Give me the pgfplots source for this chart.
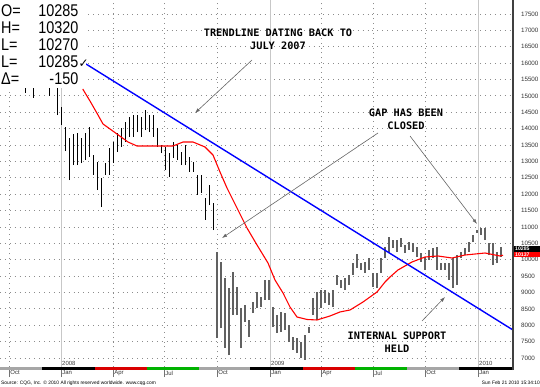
\documentclass[border=0pt]{standalone}
\usepackage{pgfplots}
\pgfplotsset{compat=1.18}
\usepackage{pgfplotstable}
\usepackage{fontspec}
\setmainfont{Liberation Sans}
\newfontfamily\annfont{DejaVu Sans Mono}
\newfontfamily\djv{DejaVu Sans}
\usetikzlibrary{arrows.meta}

\pgfplotstableread{
x lo hi
-9 15089 15485
-7 14936 15485
-3 14997 15485
-1 14417 15400
0 14112 14661
1 13318 14051
2 12433 13715
3 12891 13837
4 12891 13868
5 12952 13715
6 13044 13868
7 13135 14051
8 12586 13196
9 12128 12983
10 11609 12494
11 12586 12952
12 12586 13410
13 12952 13593
14 13288 13868
15 13441 14020
16 13593 14204
17 13746 14356
18 13746 14417
19 13898 14417
20 13746 14356
21 13959 14570
22 13898 14417
23 13746 14417
24 13441 14020
25 13257 13502
26 12739 13441
27 12525 13257
28 13105 13593
29 13044 13502
30 12891 13288
31 12891 13502
32 12678 13135
33 12678 12983
34 11976 12586
35 12037 12586
36 11213 11884
37 11670 12281
38 10907 11731
}\pre

\pgfplotstableread{
x lo hi
39 7611 10236
40 7916 9931
41 7306 9442
42 7092 9137
43 8313 9626
44 8313 9168
45 7306 8527
46 8100 8618
47 7642 8161
48 8374 8710
49 8527 9015
50 8557 8863
51 8771 9381
52 8771 9381
53 7947 8557
54 7764 8313
55 7794 8405
56 7855 8374
57 7489 8008
58 7245 7642
59 7153 7611
60 7001 7489
61 6940 7703
62 7764 7947
63 8313 8832
64 8161 9015
65 8527 9076
66 8679 9076
67 8618 8985
68 8557 9076
69 9229 9534
70 9137 9381
71 9076 9442
72 9229 9534
73 9534 9900
74 9748 10175
75 9687 9900
76 9595 9931
77 9687 10053
78 9168 9595
79 9137 9595
80 9595 10053
81 10053 10389
82 10205 10694
83 10358 10602
84 10236 10602
85 10389 10663
86 10205 10450
87 10297 10541
88 10236 10511
89 10083 10389
90 9931 10205
91 9687 10083
92 9992 10297
93 10053 10358
94 9687 10389
95 9687 9900
96 9687 9900
97 9381 9900
98 9137 10053
99 9229 10144
100 10053 10236
101 10144 10358
102 10236 10541
103 10541 10755
104 10816 10907
105 10755 10968
106 10602 10968
107 10144 10511
108 9839 10511
109 9900 10236
110 10083 10389
}\post

\pgfplotstableread{
x y
5.43 15211
7.25 14844
9.25 14417
10.5 14143
14 13837
16.75 13593
19 13471
24 13471
28 13471
30.5 13593
33 13593
36 13441
38 13196
39.75 12678
41.5 12189
44 11579
46.5 10968
49 10450
51.75 9900
53.5 9381
55.5 8985
57.25 8557
59 8252
61.5 8176
64 8161
67.25 8283
69.75 8405
72.25 8466
75.5 8710
79 9015
81 9320
82.25 9473
84.25 9687
87.75 9931
91 10083
94.25 10114
97.75 10053
101 10144
106 10205
109.75 10114
110.5 10137
}\ma

\begin{document}
\begin{tikzpicture}
\useasboundingbox (0bp,-20bp) rectangle (540bp,367bp);
\begin{axis}[
  at={(0bp,0bp)}, anchor=south west,
  scale only axis, width=513bp, height=367bp,
  xmin=-15.25, xmax=113, ymin=6726, ymax=17927,
  axis line style={draw=none},
  scaled y ticks=false,
  ytick={7000,7500,...,17500},
  yticklabel pos=right, ytick pos=right,
  ytick style={draw=none},
  yticklabel style={anchor=west, xshift=-5.5bp, font=\fontsize{6.3}{7}\selectfont, text=black!80},
  xtick={-13,13,25.75,39,65,78,91},
  xticklabels={Oct,Apr,Jul,Oct,Apr,Jul,Oct},
  extra x ticks={0,52.25,104.25},
  extra x tick labels={Jan,Jan,Jan},
  extra x tick style={grid=major, major grid style={solid, black!22, line width=0.9bp}},
  xtick pos=left,
  tick align=outside,
  major tick length=10bp,
  xtick style={draw=black!55, line width=0.6bp},
  xticklabel style={anchor=north west, inner sep=0pt, xshift=1.2bp, yshift=6.5bp, font=\fontsize{6}{6}\selectfont, text=black!80},
  xmajorgrids, ymajorgrids,
  major grid style={black!45, dash pattern=on 0.9bp off 4bp, line width=0.9bp},
  clip=false,
  /pgf/number format/.cd, 1000 sep={}, assume math mode=true
]
\addplot [draw=none, mark=none,
  error bars/.cd, y dir=plus, y explicit, error mark=none,
  error bar style={draw=black, line width=1bp}]
  table [x=x, y=lo, y error expr=\thisrow{hi}-\thisrow{lo}] {\pre};
\addplot [draw=none, mark=none,
  error bars/.cd, y dir=plus, y explicit, error mark=none,
  error bar style={draw=black!62, line width=1.2bp}]
  table [x=x, y=lo, y error expr=\thisrow{hi}-\thisrow{lo}] {\post};
\addplot [red, line width=1.1bp] table [x=x, y=y] {\ma};
\addplot [blue, line width=1.4bp] coordinates {(6.25,15974) (113,7855)};
\end{axis}
% colored quarter band
\fill[black!35] (0bp,-3bp) rectangle (42bp,0bp);
\fill[black] (42bp,-3bp) rectangle (95bp,0bp);
\fill[red!85!black] (95bp,-3bp) rectangle (147bp,0bp);
\fill[green!70!black] (147bp,-3bp) rectangle (199bp,0bp);
\fill[black!35] (199bp,-3bp) rectangle (250bp,0bp);
\fill[black] (250bp,-3bp) rectangle (303bp,0bp);
\fill[red!85!black] (303bp,-3bp) rectangle (355bp,0bp);
\fill[green!70!black] (355bp,-3bp) rectangle (407bp,0bp);
\fill[black!35] (407bp,-3bp) rectangle (459bp,0bp);
\fill[black] (459bp,-3bp) rectangle (513bp,0bp);
\draw[black!75, line width=1.3bp] (513bp,-3bp) -- (513bp,367bp);
% year labels
\node[anchor=south west, inner sep=0pt, font=\fontsize{6}{6}\selectfont, text=black!75] at (62bp,1.5bp) {2008};
\node[anchor=south west, inner sep=0pt, font=\fontsize{6}{6}\selectfont, text=black!75] at (271bp,1.5bp) {2009};
\node[anchor=south west, inner sep=0pt, font=\fontsize{6}{6}\selectfont, text=black!75] at (479bp,1.5bp) {2010};
% last value markers
\fill[black] (513.5bp,115bp) rectangle (540bp,120.5bp);
\node[anchor=west, inner sep=0pt, font=\fontsize{5.2}{5.2}\selectfont\bfseries, text=white] at (515bp,117.8bp) {10285};
\fill[red] (513.5bp,109.5bp) rectangle (540bp,115bp);
\node[anchor=west, inner sep=0pt, font=\fontsize{5.2}{5.2}\selectfont\bfseries, text=white] at (515bp,112.3bp) {10137};
% OHLC box
\fill[white] (0bp,279bp) rectangle (86bp,367bp);
\foreach \lab/\val/\yy in {O=/10285/350, H=/10320/333, L=/10270/316, L=/10285/299, Δ=/-150/282}{
  \node[anchor=base west, inner sep=0pt, font=\fontsize{17}{17}\selectfont] at (1bp,\yy bp) {\scalebox{0.85}[1]{\lab}};
  \node[anchor=base east, inner sep=0pt, font=\fontsize{17}{17}\selectfont] at (78.5bp,\yy bp) {\scalebox{0.85}[1]{\val}};
}
\node[anchor=base west, inner sep=0pt, font=\fontsize{12}{12}\selectfont] at (78.5bp,299bp) {\djv ✓};
% annotations
\node[align=center, inner sep=0pt, font=\annfont\bfseries\fontsize{10.3}{13.5}\selectfont] at (278bp,328bp) {TRENDLINE DATING BACK TO\\JULY 2007};
\node[align=center, inner sep=0pt, font=\annfont\bfseries\fontsize{10.3}{13.5}\selectfont] at (406bp,248bp) {GAP HAS BEEN\\CLOSED};
\node[align=center, inner sep=0pt, font=\annfont\bfseries\fontsize{10.3}{13.5}\selectfont] at (397bp,25bp) {INTERNAL SUPPORT\\HELD};
\begin{scope}[-{Latex[length=5bp,width=3.5bp]}, black!60, line width=0.6bp]
\draw (252bp,307bp) -- (195bp,254bp);
\draw (378bp,234bp) -- (222bp,129bp);
\draw (410bp,231bp) -- (477bp,143bp);
\draw (422bp,46bp) -- (445bp,70bp);
\end{scope}
% footer
\node[anchor=base west, inner sep=0pt, font=\fontsize{4.9}{5}\selectfont] at (1bp,-17.5bp) {Source: CQG, Inc. \textcopyright{} 2010 All rights reserved worldwide. www.cqg.com};
\node[anchor=base east, inner sep=0pt, font=\fontsize{4.9}{5}\selectfont] at (540bp,-17.5bp) {Sun Feb 21 2010 15:34:10};
\end{tikzpicture}
\end{document}
